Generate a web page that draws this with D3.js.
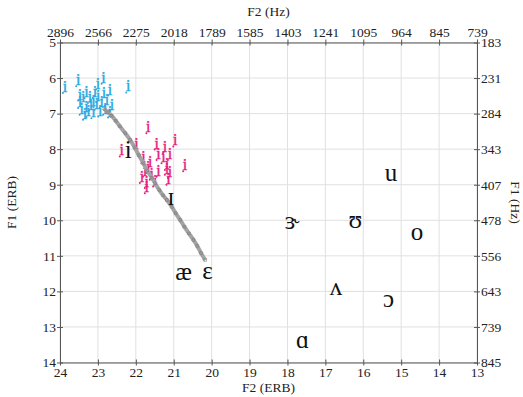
<!DOCTYPE html>
<html>
<head>
<meta charset="utf-8">
<script src="https://cdn.jsdelivr.net/npm/d3@7"></script>
<style>
  body { margin: 0; background: #fff; }
  svg text { font-family: "Liberation Serif", "DejaVu Serif", serif; }
</style>
</head>
<body>
<div id="chart"></div>
<script>
// axis ticks
var erbTicks = [24, 23, 22, 21, 20, 19, 18, 17, 16, 15, 14, 13];
var f2HzLabels = ["2896", "2566", "2275", "2018", "1789", "1585", "1403", "1241", "1095", "964", "845", "739"];
var f1Ticks = [5, 6, 7, 8, 9, 10, 11, 12, 13, 14];
var f1HzLabels = ["183", "231", "284", "343", "407", "478", "556", "643", "739", "845"];

// vowel symbols: [label, F2 ERB, F1 ERB]
var vowels = [
  ["i", 22.2, 8.02], ["ɪ", 21.07, 9.34], ["ɛ", 20.11, 11.4], ["æ", 20.74, 11.45],
  ["ɝ", 17.88, 10.0], ["ʊ", 16.21, 9.97], ["u", 15.27, 8.66], ["o", 14.58, 10.32],
  ["ʌ", 16.72, 11.87], ["ɔ", 15.33, 12.19], ["ɑ", 17.6, 13.34]
];

// blue tokens (F2, F1)
var blueTokens = [
  [23.87, 6.24], [23.52, 6.05], [23.47, 6.45], [23.30, 6.38], [23.21, 6.52], [23.00, 6.14],
  [22.85, 5.98], [22.68, 6.31], [22.20, 6.22], [23.30, 6.79], [23.25, 6.91], [23.12, 6.62],
  [23.03, 6.71], [22.94, 6.90], [23.12, 6.95], [22.81, 6.85], [22.68, 6.93], [23.43, 6.85],
  [23.47, 6.66], [23.34, 6.99], [23.08, 6.38], [22.90, 6.66], [22.76, 6.59], [22.63, 6.73],
  [23.39, 6.53], [23.18, 6.73], [22.99, 6.50], [22.84, 6.42]
];

// pink tokens (F2, F1)
var pinkTokens = [
  [21.67, 7.37], [22.37, 8.02], [21.98, 7.83], [21.45, 7.83], [21.23, 7.93], [20.96, 7.74],
  [21.80, 8.21], [21.40, 8.12], [21.10, 8.12], [21.18, 8.40], [20.70, 8.44], [21.67, 8.49],
  [21.76, 8.59], [21.40, 8.59], [21.58, 8.68], [21.71, 8.91], [21.49, 8.87], [21.14, 8.82],
  [21.84, 8.77], [21.27, 8.21], [21.18, 8.54], [21.62, 8.35], [21.71, 9.06], [21.10, 8.63]
];

// trajectory (F2, F1)
var trajectory = [
  [22.84, 6.86], [22.74, 6.96], [22.64, 7.06], [22.53, 7.20], [22.42, 7.36], [22.28, 7.55],
  [22.15, 7.74], [22.03, 7.95], [21.92, 8.17], [21.80, 8.40], [21.70, 8.60], [21.58, 8.80],
  [21.49, 8.96], [21.38, 9.15], [21.28, 9.30], [21.18, 9.43], [21.05, 9.62], [20.95, 9.80],
  [20.83, 9.99], [20.72, 10.18], [20.60, 10.37], [20.48, 10.55], [20.38, 10.72], [20.28, 10.92],
  [20.17, 11.12]
];

var W = 523, H = 397;
var mLeft = 60, mRight = 477, mTop = 42.5, mBottom = 362.5;

var svg = d3.select("#chart").append("svg")
  .attr("width", W)
  .attr("height", H);

var x = d3.scaleLinear().domain([24, 13]).range([mLeft, mRight]);
var y = d3.scaleLinear().domain([5, 14]).range([mTop, mBottom]);

//Grid
svg.append("g").selectAll("line")
  .data(erbTicks).enter().append("line")
  .attr("x1", d => x(d)).attr("x2", d => x(d))
  .attr("y1", mTop).attr("y2", mBottom)
  .attr("stroke", "#e0e0e0").attr("stroke-width", 1);

svg.append("g").selectAll("line")
  .data(f1Ticks).enter().append("line")
  .attr("x1", mLeft).attr("x2", mRight)
  .attr("y1", d => y(d)).attr("y2", d => y(d))
  .attr("stroke", "#e0e0e0").attr("stroke-width", 1);

//Axes
function styleAxis(g, horiz) {
  g.select(".domain").attr("stroke", "#555");
  g.selectAll(".tick line").attr("stroke", "#555");
  if (horiz) g.selectAll(".tick line").attr("y1", -3).attr("y2", 3);
  else g.selectAll(".tick line").attr("x1", -3).attr("x2", 3);
  g.selectAll("text").style("font-size", "13.5px").attr("fill", "#222")
    .style("font-family", "'Liberation Serif', serif");
}

var xBottom = svg.append("g")
  .attr("transform", "translate(0," + mBottom + ")")
  .call(d3.axisBottom(x).tickValues(erbTicks).tickSize(3).tickSizeOuter(0).tickFormat(d3.format("d")));
styleAxis(xBottom, true);
xBottom.selectAll("text").attr("y", 5);

var xTop = svg.append("g")
  .attr("transform", "translate(0," + mTop + ")")
  .call(d3.axisTop(x).tickValues(erbTicks).tickSize(3).tickSizeOuter(0)
    .tickFormat((d, i) => f2HzLabels[i]));
styleAxis(xTop, true);
xTop.selectAll("text").attr("y", -6);

var yLeft = svg.append("g")
  .attr("transform", "translate(" + mLeft + ",0)")
  .call(d3.axisLeft(y).tickValues(f1Ticks).tickSize(3).tickSizeOuter(0).tickFormat(d3.format("d")));
styleAxis(yLeft, false);
yLeft.selectAll("text").attr("x", -4);

var yRight = svg.append("g")
  .attr("transform", "translate(" + mRight + ",0)")
  .call(d3.axisRight(y).tickValues(f1Ticks).tickSize(3).tickSizeOuter(0)
    .tickFormat((d, i) => f1HzLabels[i]));
styleAxis(yRight, false);
yRight.selectAll("text").attr("x", 4);

//Axis titles
svg.append("text").attr("x", (mLeft + mRight) / 2).attr("y", 16)
  .attr("text-anchor", "middle").style("font-size", "13.5px").attr("fill", "#222")
  .text("F2 (Hz)");
svg.append("text").attr("x", (mLeft + mRight) / 2).attr("y", 392)
  .attr("text-anchor", "middle").style("font-size", "13.5px").attr("fill", "#222")
  .text("F2 (ERB)");
svg.append("text").attr("transform", "translate(16," + (mTop + mBottom) / 2 + ") rotate(-90)")
  .attr("text-anchor", "middle").style("font-size", "13.5px").attr("fill", "#222")
  .text("F1 (ERB)");
svg.append("text").attr("transform", "translate(511," + (mTop + mBottom) / 2 + ") rotate(90)")
  .attr("text-anchor", "middle").style("font-size", "13.5px").attr("fill", "#222")
  .text("F1 (Hz)");

//Tokens
function drawTokens(data, col) {
  var g = svg.append("g");
  g.selectAll("circle").data(data).enter().append("circle")
    .attr("cx", d => x(d[0]) - 2).attr("cy", d => y(d[1]) + 6.5)
    .attr("r", 1).attr("fill", col);
  g.selectAll("text").data(data).enter().append("text")
    .attr("x", d => x(d[0])).attr("y", d => y(d[1]))
    .attr("text-anchor", "middle").attr("dominant-baseline", "central")
    .style("font-size", "16px").attr("fill", col)
    .attr("stroke", col).attr("stroke-width", 0.4)
    .text("i");
}
drawTokens(blueTokens, "#2aa7e0");
drawTokens(pinkTokens, "#e61c80");

//Trajectory
svg.append("path")
  .datum(trajectory)
  .attr("fill", "none")
  .attr("stroke", "#a4a4a4")
  .attr("stroke-width", 4)
  .attr("d", d3.line().x(d => x(d[0])).y(d => y(d[1])).curve(d3.curveCatmullRom));

svg.append("g").selectAll("path")
  .data(trajectory).enter().append("path")
  .attr("transform", d => "translate(" + x(d[0]) + "," + y(d[1]) + ") rotate(45)")
  .attr("d", d3.symbol().type(d3.symbolCross).size(7))
  .attr("fill", "none").attr("stroke", "#6a6a6a").attr("stroke-width", 0.5);

//Vowels
svg.append("g").selectAll("text")
  .data(vowels).enter().append("text")
  .attr("x", d => x(d[1])).attr("y", d => y(d[2]))
  .attr("text-anchor", "middle").attr("dominant-baseline", "central")
  .style("font-size", "25px").attr("fill", "#111")
  .text(d => d[0]);
</script>
</body>
</html>
